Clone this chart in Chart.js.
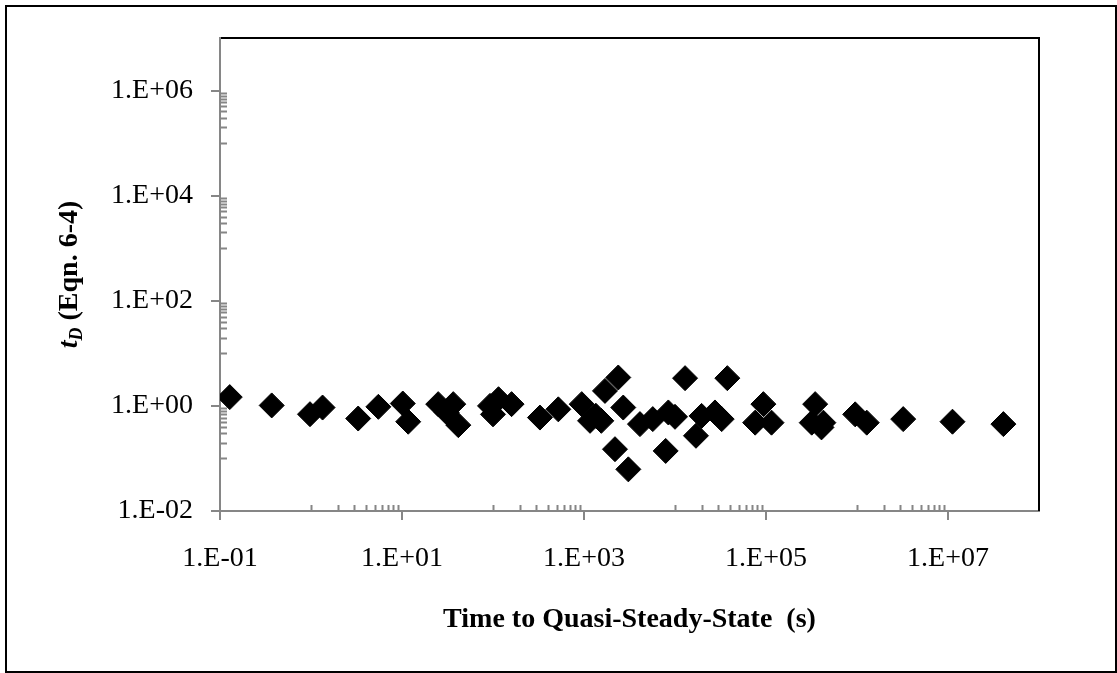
<!DOCTYPE html>
<html><head><meta charset="utf-8">
<script src="https://cdn.jsdelivr.net/npm/chart.js@4.4.1/dist/chart.umd.min.js"></script>
<style>html,body{margin:0;padding:0;background:#fff;}#wrap{width:1117px;height:673px;position:relative}</style>
</head><body><div id="wrap"><canvas id="c" width="1117" height="673"></canvas></div>
<script>
// ---- data ----
const timeToQSS = [0.128, 0.37, 0.975, 1.34, 3.3, 5.5, 10.2, 11.7, 25, 36.6, 41.6, 31,
  92.7, 115, 100, 160, 328, 522, 944, 1165, 1550, 1700, 2380, 2700, 2190, 3070, 1350,
  4120, 5700, 8450, 12900, 37600, 7900, 19600, 17000, 27500, 32600, 93600, 76000, 115000,
  347000, 318000, 427000, 407000, 955000, 1.28e6, 3.22e6, 1.12e7, 4.06e7, 10000];
const tD = [1.47, 1.02, 0.695, 0.93, 0.575, 0.96, 1.11, 0.50, 1.08, 1.08, 0.43, 0.75,
  1.0, 1.34, 0.69, 1.08, 0.6, 0.86, 1.08, 0.52, 0.52, 1.93, 3.47, 0.93, 0.15, 0.062, 0.65,
  0.45, 0.56, 0.75, 3.37, 3.37, 0.139, 0.645, 0.27, 0.75, 0.56, 1.08, 0.48, 0.48,
  1.08, 0.48, 0.48, 0.39, 0.69, 0.48, 0.56, 0.5, 0.45, 0.62];
const xTickValues = [0.1, 10, 1e3, 1e5, 1e7];
const xTickLabels = ['1.E-01', '1.E+01', '1.E+03', '1.E+05', '1.E+07'];
const yTickValues = [0.01, 1, 100, 1e4, 1e6];
const yTickLabels = ['1.E-02', '1.E+00', '1.E+02', '1.E+04', '1.E+06'];
const xMin = 0.1, xMax = 1e8, yMin = 0.01, yMax = 1e7;
const xTitle = 'Time to Quasi-Steady-State  (s)';
const yTitleMain = 't', yTitleSub = 'D', yTitleRest = ' (Eqn. 6-4)';

// ---- style ----
const AXIS = '#868686';
const SERIF = '"Liberation Serif", "Times New Roman", serif';
const TICK_FONT = 28, TITLE_FONT = 28;

const points = timeToQSS.map((x, i) => ({x: x, y: tD[i]}));

const framePlugin = {
  id: 'frame',
  beforeDraw(chart) {
    const ctx = chart.ctx;
    ctx.save();
    ctx.fillStyle = '#fff';
    ctx.fillRect(0, 0, chart.width, chart.height);
    ctx.strokeStyle = '#000';
    ctx.lineWidth = 2;
    ctx.strokeRect(6, 6, 1110, 666);
    ctx.restore();
  },
  afterDraw(chart) {
    const ctx = chart.ctx, a = chart.chartArea;
    const xs = chart.scales.x, ys = chart.scales.y;
    ctx.save();
    // top & right plot border
    ctx.strokeStyle = '#000';
    ctx.lineWidth = 2;
    ctx.beginPath();
    ctx.moveTo(a.left + 1, a.top); ctx.lineTo(a.right, a.top); ctx.lineTo(a.right, a.bottom);
    ctx.stroke();
    // minor ticks (inside), in the decade below each major
    ctx.strokeStyle = AXIS;
    ctx.lineWidth = 2;
    ctx.beginPath();
    const xMaj = xTickValues.concat([1e9]);
    xMaj.forEach(m => {
      for (let k = 1; k <= 9; k++) {
        const v = k * m / 10;
        if (v <= xMin * 1.0001 || v >= xMax * 0.9999) continue;
        const px = Math.round(xs.getPixelForValue(v)) + 0.5;
        ctx.moveTo(px, a.bottom); ctx.lineTo(px, a.bottom - 6);
      }
    });
    const yMaj = yTickValues.concat([1e8]);
    yMaj.forEach(m => {
      for (let k = 1; k <= 9; k++) {
        const v = k * m / 10;
        if (v <= yMin * 1.0001 || v >= yMax * 0.9999) continue;
        const py = Math.round(ys.getPixelForValue(v)) + 0.5;
        ctx.moveTo(a.left, py); ctx.lineTo(a.left + 7, py);
      }
    });
    ctx.stroke();
    // y title with italic subscript
    ctx.fillStyle = '#000';
    ctx.textBaseline = 'alphabetic';
    const fMain = 'italic bold ' + TITLE_FONT + 'px ' + SERIF;
    const fSub = 'italic bold ' + Math.round(TITLE_FONT * 0.66) + 'px ' + SERIF;
    const fRest = 'bold ' + TITLE_FONT + 'px ' + SERIF;
    ctx.font = fMain; const w1 = ctx.measureText(yTitleMain).width;
    ctx.font = fSub; const w2 = ctx.measureText(yTitleSub).width;
    ctx.font = fRest; const w3 = ctx.measureText(yTitleRest).width;
    const total = w1 + w2 + w3;
    const cx = 77, cy = (a.top + a.bottom) / 2;
    ctx.translate(cx, cy);
    ctx.rotate(-Math.PI / 2);
    let x0 = -total / 2;
    ctx.font = fMain; ctx.fillText(yTitleMain, x0, 0); x0 += w1;
    ctx.font = fSub; ctx.fillText(yTitleSub, x0, 5); x0 += w2;
    ctx.font = fRest; ctx.fillText(yTitleRest, x0, 0);
    ctx.restore();
  }
};

new Chart(document.getElementById('c'), {
  type: 'scatter',
  data: {
    datasets: [{
      data: points,
      pointStyle: 'rectRot',
      pointRadius: 12.5,
      pointHoverRadius: 12.5,
      backgroundColor: '#000',
      borderColor: '#000',
      borderWidth: 1
    }]
  },
  options: {
    responsive: false,
    animation: false,
    devicePixelRatio: 1,
    layout: {padding: {left: 10, right: 78, top: 38, bottom: 10}},
    plugins: {legend: {display: false}, tooltip: {enabled: false}},
    scales: {
      x: {
        type: 'logarithmic', min: xMin, max: xMax,
        afterBuildTicks: s => { s.ticks = xTickValues.map(v => ({value: v})); },
        afterFit: s => { s.height = 152; },
        ticks: {
          autoSkip: false, maxRotation: 0, padding: 22, color: '#000',
          font: {family: SERIF, size: TICK_FONT},
          callback: (v) => xTickLabels[xTickValues.findIndex(t => Math.abs(t - v) / t < 1e-6)]
        },
        grid: {drawOnChartArea: false, drawTicks: true, tickLength: 9, color: AXIS, lineWidth: 2},
        border: {display: true, color: AXIS, width: 2},
        title: {display: true, text: xTitle, color: '#000',
          font: {family: SERIF, size: TITLE_FONT, weight: 'bold'}, padding: {top: 0, bottom: 26}}
      },
      y: {
        type: 'logarithmic', min: yMin, max: yMax,
        afterBuildTicks: s => { s.ticks = yTickValues.map(v => ({value: v})); },
        afterFit: s => { s.width = 210; },
        ticks: {
          autoSkip: false, padding: 18, color: '#000',
          font: {family: SERIF, size: TICK_FONT},
          callback: (v) => yTickLabels[yTickValues.findIndex(t => Math.abs(t - v) / t < 1e-6)]
        },
        grid: {drawOnChartArea: false, drawTicks: true, tickLength: 9, color: AXIS, lineWidth: 2},
        border: {display: true, color: AXIS, width: 2}
      }
    }
  },
  plugins: [framePlugin]
});
</script>
</body></html>
